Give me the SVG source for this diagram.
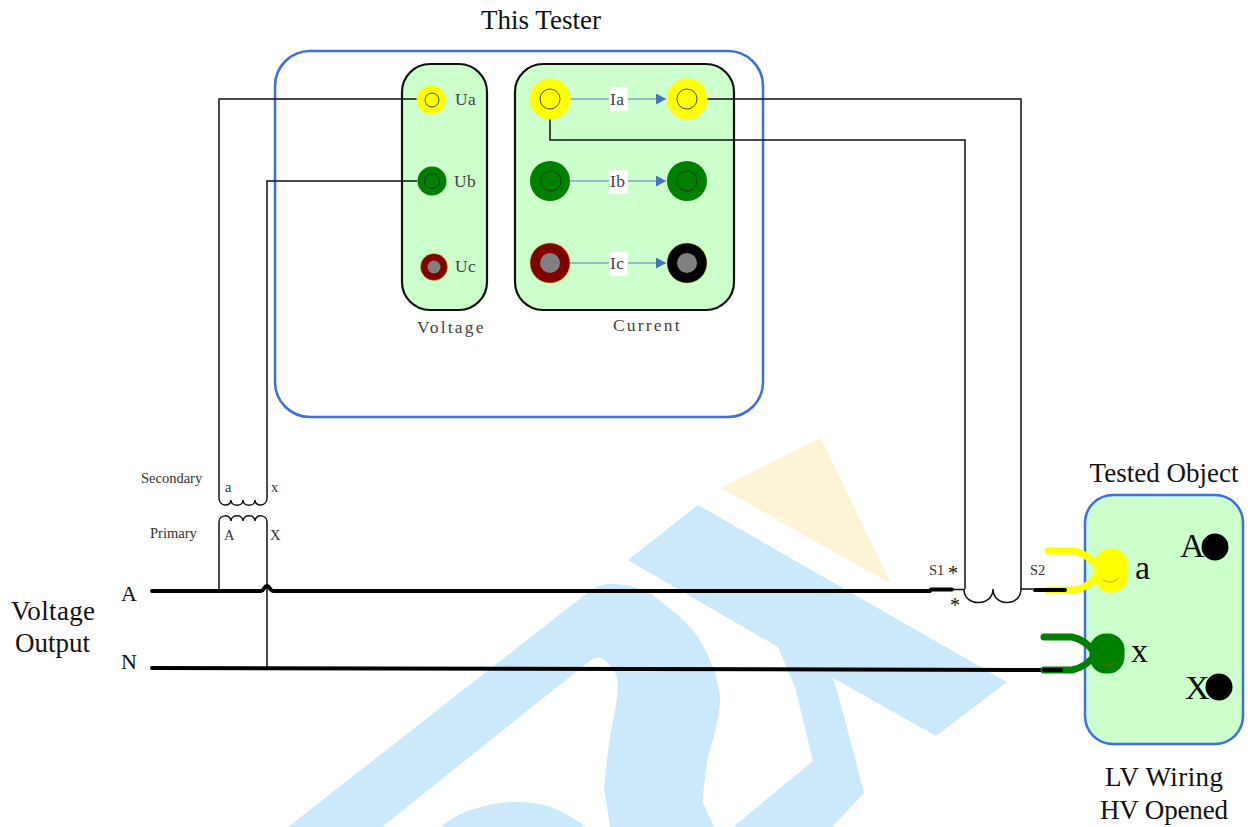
<svg xmlns="http://www.w3.org/2000/svg" width="1252" height="827" viewBox="0 0 1252 827">
<defs>
<marker id="arr" markerUnits="userSpaceOnUse" markerWidth="11" markerHeight="12" refX="10" refY="5.5" orient="auto"><path d="M0,0L10,5.5L0,11Z" fill="#4472c4"/></marker>
</defs>
<style>
text{font-family:"Liberation Serif","Times New Roman",serif;fill:#111}
.big{font-size:27px}
.sm{font-size:14.5px;fill:#333}
.lab{font-size:17.5px;fill:#444;letter-spacing:.4px}
.panel{fill:#ccffcc;stroke:#111;stroke-width:2.2}
.wire{fill:none;stroke:#111;stroke-width:1.5}
.bus{fill:none;stroke:#000;stroke-width:4;stroke-linecap:round}
.flow{stroke:#7fa8c8;stroke-width:1.5;marker-end:url(#arr)}
.tag{fill:#fff}
.wm{fill:#cce8fb}
.ring{fill:none;stroke:#222;stroke-width:.8}
.blue{fill:none;stroke:#3f6fe3;stroke-width:2.5}
</style>
<g id="watermark">
<path fill="#fdf3d6" d="M821,438L721,488L891,584Z"/>
<path class="wm" d="M698,505L628,560L778,647L795,687L813,761L733,827L832,827L864,793L845,720L833,678L936,736L1007,682Z"/>
<path class="wm" d="M288,827L591,590C600,584 608,583 615,584C635,586 648,590 655,597C675,612 690,625 698,637C712,660 718,680 720,697C720,720 713,738 709,753C705,775 703,790 703,803L714,827L610,827L604,787C606,770 608,750 610,737C614,715 618,700 618,683C618,678 615,672 612,668C608,662 603,658 599,658C595,658 592,659 591,660L382,827Z"/>
<path class="wm" d="M441,827C452,817 465,811 478,808C490,804 503,802 516,802C530,802 542,804 553,808C565,813 577,820 586,827Z"/>
</g>
<g id="tester"><rect class="blue" x="275" y="51" width="488" height="366" rx="35"/></g>
<g id="tested-object"><rect x="1085" y="495" width="158" height="249" rx="28" fill="#ccffcc" stroke="#3f6fe3" stroke-width="2.5"/>
<circle cx="1215" cy="547" r="13.5"/><circle cx="1219" cy="687" r="13.5"/>
<text x="1180" y="557" style="font-size:34px">A</text><text x="1185" y="699" style="font-size:34px">X</text>
<text x="1135" y="579" style="font-size:34px">a</text><text x="1131" y="662" style="font-size:34px">x</text></g>
<g id="voltage-panel"><rect class="panel" x="402" y="64" width="85" height="246" rx="28"/>
<text class="lab" x="417" y="333" textLength="67" lengthAdjust="spacing">Voltage</text></g>
<g id="current-panel"><rect class="panel" x="515" y="64" width="219" height="246" rx="28"/>
<text class="lab" x="613" y="331" textLength="67" lengthAdjust="spacing">Current</text></g>
<g id="connectors">
<path class="wire" d="M417,99H219V498"/>
<path class="wire" d="M417,181H267V498"/>
<path class="wire" d="M219,498C219,507 231,507 231,500C231,507 243,507 243,500C243,507 255,507 255,500C255,507 267,507 267,498"/>
<path class="wire" d="M219,522C219,514 231,514 231,521C231,514 243,514 243,521C243,514 255,514 255,521C255,514 267,514 267,522"/>
<path class="wire" d="M219,522V591M267,522V668"/>
<path class="wire" d="M550,119V140H965V589"/>
<path class="wire" d="M707,99H1021V589"/>
<path class="wire" d="M953,589.500H964C964,607 993,607 993,589C993,607 1021,607 1021,589H1033"/>
<path class="bus" d="M152,591H261C264,591 264,586 267,586C270,586 270,591 273,591H930"/>
<path class="bus" d="M931,589.500H952"/>
<path class="bus" d="M152,668L1062,670"/>
</g>
<g id="plug-a" fill="none" stroke="#ffff00" stroke-width="7" stroke-linecap="round">
<path d="M1048,551H1074C1085,553 1095,562 1100,570C1095,580 1085,589 1074,590H1048"/>
<rect x="1098" y="552" width="26" height="37" rx="12" fill="#ffff00"/>
</g>
<path d="M1103,580Q1111,585 1119,578" fill="none" stroke="#d08030" stroke-width=".8"/>
<g id="plug-x" fill="none" stroke="#008000" stroke-width="7" stroke-linecap="round">
<path d="M1044,637H1072C1082,639 1090,646 1096,654C1090,662 1082,668 1072,670H1044"/>
<rect x="1093" y="637" width="28" height="33" rx="13" fill="#008000"/>
</g>
<path d="M1103,664Q1110,667 1115,663" fill="none" stroke="#a05010" stroke-width=".8"/>
<path class="bus" d="M1035,590H1065M1044,670H1061"/>
<g id="Ua"><circle cx="431" cy="100" r="14.500" fill="#ffff00"/><circle class="ring" cx="432" cy="100" r="7"/><text class="lab" x="455" y="105">Ua</text></g>
<g id="Ub"><circle cx="432" cy="181" r="14.500" fill="#008000"/><circle class="ring" cx="432" cy="181" r="7.500"/><text class="lab" x="454" y="187">Ub</text></g>
<g id="Uc"><circle cx="434" cy="267" r="13.500" fill="#800000" stroke="#c8c800" stroke-width=".5"/><circle cx="434" cy="267" r="6.500" fill="#808080"/><text class="lab" x="455" y="272">Uc</text></g>
<g id="Ia"><line class="flow" x1="570" y1="99" x2="666" y2="99"/><rect class="tag" x="609" y="87" width="19" height="24"/><text class="lab" x="610" y="105">Ia</text>
<circle cx="550" cy="99" r="20.500" fill="#ffff00"/><circle class="ring" cx="550" cy="99" r="10"/><circle cx="687" cy="99" r="20.500" fill="#ffff00"/><circle class="ring" cx="687" cy="99" r="10"/></g>
<g id="Ib"><line class="flow" x1="570" y1="181" x2="666" y2="181"/><rect class="tag" x="609" y="170" width="19" height="24"/><text class="lab" x="610" y="187">Ib</text>
<circle cx="550" cy="181" r="20" fill="#008000"/><circle class="ring" cx="551" cy="181" r="10"/><circle cx="687" cy="181" r="20" fill="#008000"/><circle class="ring" cx="687" cy="181" r="10"/></g>
<g id="Ic"><line class="flow" x1="570" y1="263" x2="666" y2="263"/><rect class="tag" x="609" y="252" width="19" height="24"/><text class="lab" x="610" y="269">Ic</text>
<circle cx="550" cy="263" r="20" fill="#800000" stroke="#c8c800" stroke-width=".5"/><circle cx="550" cy="263" r="10" fill="#808080"/><circle cx="687" cy="263" r="20" fill="#000" stroke="#c8c800" stroke-width=".5"/><circle cx="687" cy="263" r="10" fill="#808080"/></g>
<g id="labels">
<text class="big" x="541" y="29" text-anchor="middle">This Tester</text>
<text class="big" x="1164" y="482" text-anchor="middle">Tested Object</text>
<text class="big" x="1105" y="786" textLength="118">LV Wiring</text>
<text class="big" x="1100" y="819" textLength="128">HV Opened</text>
<text class="big" x="11" y="620" textLength="84">Voltage</text>
<text class="big" x="15" y="652" textLength="75">Output</text>
<text x="121" y="601" style="font-size:22px">A</text>
<text x="121" y="669" style="font-size:22px">N</text>
<text class="sm" x="141" y="483">Secondary</text>
<text class="sm" x="150" y="538">Primary</text>
<text class="sm" x="225" y="492">a</text><text class="sm" x="271" y="492">x</text>
<text class="sm" x="224" y="540">A</text><text class="sm" x="270" y="540">X</text>
<text class="sm" x="929" y="575">S1</text><text class="sm" x="1030" y="575">S2</text>
<text x="948" y="580" style="font-size:20px">*</text><text x="950" y="612" style="font-size:20px">*</text>
</g>
</svg>
